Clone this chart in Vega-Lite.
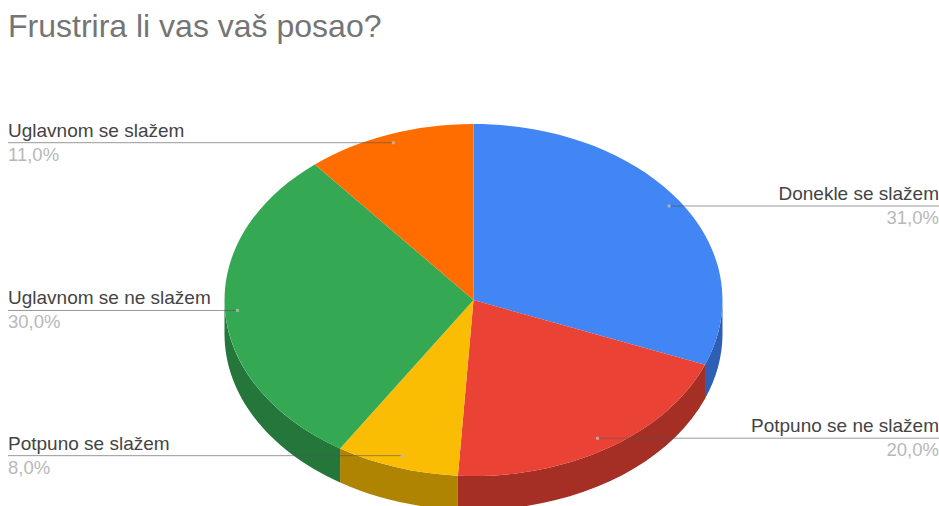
{
"$schema":"https://vega.github.io/schema/vega-lite/v6.json",
"width":931,"height":412,
"autosize":{"type":"none"},
"padding":{"left":8,"top":94,"right":0,"bottom":0},
"background":"white",
"title":{"text":"Frustrira li vas vaš posao?","anchor":"start","frame":"group","offset":50,"font":"Liberation Sans","fontSize":32,"fontWeight":"normal","color":"#757575"},
"data":{"values":[
{"rank":1,"answer":"Donekle se slažem","percent":31,"pct":"31,0%"},
{"rank":2,"answer":"Potpuno se ne slažem","percent":20,"pct":"20,0%"},
{"rank":3,"answer":"Potpuno se slažem","percent":8,"pct":"8,0%"},
{"rank":4,"answer":"Uglavnom se ne slažem","percent":30,"pct":"30,0%"},
{"rank":5,"answer":"Uglavnom se slažem","percent":11,"pct":"11,0%"}
]},
"transform":[
{"stack":"percent","as":["s","e"],"sort":[{"field":"rank"}],"groupby":[]},
{"calculate":"(datum.s+datum.e)*PI/100","as":"mid"},
{"calculate":"(cos(datum.mid)<-0.5?0.93:0.95)*sin(datum.mid)","as":"u"},
{"calculate":"(cos(datum.mid)<-0.5?0.93:0.95)*cos(datum.mid)","as":"v"},
{"calculate":"datum.u>0?1.87:-1.87","as":"edge"}
],
"encoding":{
"x":{"type":"quantitative","scale":{"domain":[-1.87,1.87],"nice":false,"zero":false},"axis":null},
"y":{"type":"quantitative","scale":{"domain":[-1.1705,1.1705],"nice":false,"zero":false},"axis":null}
},
"layer":[
{"transform":[{"filter":"datum.rank<5"}],
"mark":{"type":"point","filled":true,"opacity":1,"size":4,"strokeWidth":0},
"encoding":{"x":{"datum":0},"y":{"datum":0},
"color":{"field":"answer","type":"nominal","legend":null,"scale":{"domain":["Donekle se slažem","Potpuno se ne slažem","Potpuno se slažem","Uglavnom se ne slažem"],"range":["#2d5fb4","#a52f25","#b08403","#24763a"]}},
"shape":{"field":"answer","type":"nominal","legend":null,"scale":{"domain":["Donekle se slažem","Potpuno se ne slažem","Potpuno se slažem","Uglavnom se ne slažem"],"range":[
"M249,0A249,176 0 0 1 231.5,64.8L231.5,98.8A249,176 0 0 0 249,34Z",
"M231.5,64.8A249,176 0 0 1 -15.6,175.7L-15.6,209.7A249,176 0 0 0 231.5,98.8Z",
"M-15.6,175.7A249,176 0 0 1 -133.4,148.6L-133.4,182.6A249,176 0 0 0 -15.6,209.7Z",
"M-133.4,148.6A249,176 0 0 1 -249,0L-249,34A249,176 0 0 0 -133.4,182.6Z"
]}}}},
{"mark":{"type":"point","filled":true,"opacity":1,"size":4,"strokeWidth":0},
"encoding":{"x":{"datum":0},"y":{"datum":0},
"color":{"field":"answer","type":"nominal","legend":null,"scale":{"domain":["Donekle se slažem","Potpuno se ne slažem","Potpuno se slažem","Uglavnom se ne slažem","Uglavnom se slažem"],"range":["#4285f4","#ea4335","#fbbc04","#34a853","#ff6d01"]}},
"shape":{"field":"answer","type":"nominal","legend":null,"scale":{"domain":["Donekle se slažem","Potpuno se ne slažem","Potpuno se slažem","Uglavnom se ne slažem","Uglavnom se slažem"],"range":[
"M0,0L0,-176A249,176 0 0 1 231.5,64.8Z",
"M0,0L231.5,64.8A249,176 0 0 1 -15.6,175.7Z",
"M0,0L-15.6,175.7A249,176 0 0 1 -133.4,148.6Z",
"M0,0L-133.4,148.6A249,176 0 0 1 -158.7,-135.6Z",
"M0,0L-158.7,-135.6A249,176 0 0 1 0,-176Z"
]}}}},
{"mark":{"type":"rule","color":"#555555","opacity":0.6,"strokeWidth":1},
"encoding":{"x":{"field":"u","type":"quantitative"},"x2":{"field":"edge"},"y":{"field":"v","type":"quantitative"}}},
{"mark":{"type":"circle","color":"#bdbdbd","opacity":0.8,"size":12},
"encoding":{"x":{"field":"u","type":"quantitative"},"y":{"field":"v","type":"quantitative"}}},
{"transform":[{"filter":"datum.u<0"}],
"mark":{"type":"text","align":"left","baseline":"middle","dy":-12,"font":"Liberation Sans","fontSize":19,"color":"#444444"},
"encoding":{"x":{"field":"edge","type":"quantitative"},"y":{"field":"v","type":"quantitative"},"text":{"field":"answer"}}},
{"transform":[{"filter":"datum.u<0"}],
"mark":{"type":"text","align":"left","baseline":"middle","dy":12,"font":"Liberation Sans","fontSize":18.5,"color":"#b8b8b8"},
"encoding":{"x":{"field":"edge","type":"quantitative"},"y":{"field":"v","type":"quantitative"},"text":{"field":"pct"}}},
{"transform":[{"filter":"datum.u>0"}],
"mark":{"type":"text","align":"right","baseline":"middle","dy":-12,"font":"Liberation Sans","fontSize":19,"color":"#444444"},
"encoding":{"x":{"field":"edge","type":"quantitative"},"y":{"field":"v","type":"quantitative"},"text":{"field":"answer"}}},
{"transform":[{"filter":"datum.u>0"}],
"mark":{"type":"text","align":"right","baseline":"middle","dy":12,"font":"Liberation Sans","fontSize":18.5,"color":"#b8b8b8"},
"encoding":{"x":{"field":"edge","type":"quantitative"},"y":{"field":"v","type":"quantitative"},"text":{"field":"pct"}}}
],
"resolve":{"scale":{"color":"independent","shape":"independent"}},
"config":{"view":{"stroke":null}}
}
